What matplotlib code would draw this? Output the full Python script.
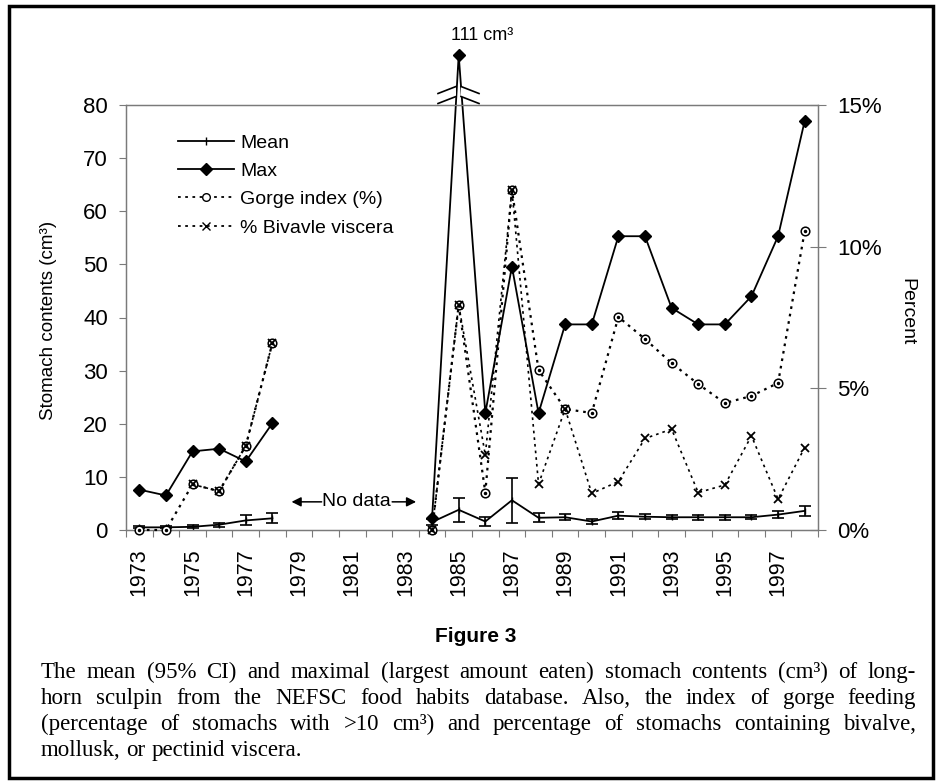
import numpy as np
import matplotlib
matplotlib.use("Agg")
import matplotlib.pyplot as plt
from matplotlib.lines import Line2D
from matplotlib.patches import Rectangle, Polygon

nan = np.nan
years = list(range(1973, 1999))
max_vals = [7.6, 6.5, 14.8, 15.3, 12.9, 20.1, nan, nan, nan, nan, nan,
            2.2, 111, 22.0, 49.6, 22.0, 38.7, 38.7, 55.3, 55.3, 41.8, 38.7, 38.7, 44.0, 55.3, 77.0]
mean_vals = [0.5, 0.5, 0.6, 1.0, 1.8, 2.2, nan, nan, nan, nan, nan,
             1.5, 3.8, 1.6, 5.6, 2.3, 2.4, 1.6, 2.7, 2.5, 2.4, 2.4, 2.4, 2.4, 2.9, 3.6]
mean_ci = [0.2, 0.2, 0.3, 0.4, 0.95, 0.95, nan, nan, nan, nan, nan,
           0.5, 2.3, 0.8, 4.2, 0.85, 0.6, 0.5, 0.7, 0.5, 0.4, 0.5, 0.5, 0.4, 0.6, 0.9]
gorge_pct = [0, 0, 1.61, 1.37, 2.97, 6.6, nan, nan, nan, nan, nan,
             0, 7.94, 1.32, 12.0, 5.65, 4.27, 4.13, 7.52, 6.74, 5.89, 5.15, 4.48, 4.73, 5.19, 10.55]
bivalve_pct = [nan, nan, 1.61, 1.37, 2.97, 6.6, nan, nan, nan, nan, nan,
               0, 7.94, 2.65, 12.0, 1.62, 4.27, 1.29, 1.71, 3.23, 3.56, 1.32, 1.59, 3.32, 1.09, 2.91]
left_ticks = [0, 10, 20, 30, 40, 50, 60, 70, 80]
right_ticks = [0, 5, 10, 15]
right_labels = ["0%", "5%", "10%", "15%"]
xlabel_years = list(range(1973, 1999, 2))

W, H = 942, 784
SANS = ["Liberation Sans", "DejaVu Sans"]
plt.rcParams["font.family"] = SANS

fig = plt.figure(figsize=(W / 100, H / 100), dpi=100)
L, R, T, B = 126, 818, 105, 530
ax = fig.add_axes([L / W, 1 - B / H, (R - L) / W, (B - T) / H])
ax2 = ax.twinx()

# broken-axis display for values above the top of the axis
BREAK_LEVEL = 89.4
max_disp = [BREAK_LEVEL if (v == v and v > 80) else v for v in max_vals]

gray = "#7a7a7a"
ax.plot(years, max_disp, color="black", lw=1.3, marker="D", ms=6.2,
        mfc="black", mec="black", clip_on=False, zorder=4)
ax.errorbar(years, mean_vals, yerr=mean_ci, color="black", lw=1.3,
            elinewidth=1.2, capsize=4.5, capthick=1.2, marker="|", ms=5,
            clip_on=False, zorder=4)

ax2.plot(years, gorge_pct, color="black", lw=1.6, ls=(0, (1.2, 2.2)),
         marker="o", ms=6.2, mfc="white", mec="black", mew=1.1, clip_on=False, zorder=3)
ax2.plot(years, gorge_pct, ls="none", marker="o", ms=1.5, color="black",
         clip_on=False, zorder=3)
ax2.plot(years, bivalve_pct, color="black", lw=1.2, ls=(0, (1.6, 2.4)),
         marker="x", ms=6.2, mew=1.3, clip_on=False, zorder=3)

ax.set_xlim(1972.5, 1998.5)
ax.set_ylim(0, 80)
ax2.set_ylim(0, 15)

# axis break marks near the 1985 peak
px_x = (R - L) / 26.0
px_y = (B - T) / 80.0
def px2data(x, y):
    return 1972.5 + (x - L) / px_x, (B - y) / px_y

for cx, sgn in [(447, 1), (470, -1)]:
    a1 = px2data(cx - 9, 95 + sgn * 3.5 - 5)
    a2 = px2data(cx + 9, 95 - sgn * 3.5 - 5)
    b1 = px2data(cx - 9, 95 + sgn * 3.5 + 5)
    b2 = px2data(cx + 9, 95 - sgn * 3.5 + 5)
    ax.add_patch(Polygon([a1, a2, b2, b1], closed=True, facecolor="white",
                         edgecolor="none", clip_on=False, zorder=6))
    for p, q in [(a1, a2), (b1, b2)]:
        ax.add_line(Line2D([p[0], q[0]], [p[1], q[1]], color="black", lw=1.2,
                           clip_on=False, zorder=7))

ax.annotate("111 cm³", xy=(1985, BREAK_LEVEL), xytext=(17, 11),
            textcoords="offset points", ha="center", va="baseline", fontsize=13,
            annotation_clip=False)

# "No data" annotation
ax.text(1981.15, 5.3, "No data", ha="center", va="center", fontsize=14)
ax.annotate("", xy=(1978.72, 5.3), xytext=(1979.85, 5.3),
            arrowprops=dict(arrowstyle="-|>", color="black", lw=1.1,
                            mutation_scale=14, shrinkA=0, shrinkB=0))
ax.annotate("", xy=(1983.4, 5.3), xytext=(1982.5, 5.3),
            arrowprops=dict(arrowstyle="-|>", color="black", lw=1.1,
                            mutation_scale=14, shrinkA=0, shrinkB=0))

# ticks
ax.set_xticks(np.arange(1972.5, 1999, 1.0))
ax.set_xticklabels([])
ax.set_xticks(xlabel_years, minor=True)
ax.set_xticklabels([str(y) for y in xlabel_years], minor=True, rotation=90,
                   fontsize=15.5)
ax.tick_params(axis="x", which="major", direction="out", length=5, color=gray, width=0.8)
ax.tick_params(axis="x", which="minor", length=0, pad=13)
ax.set_yticks(left_ticks)
ax.tick_params(axis="y", direction="out", length=5, pad=8, labelsize=16,
               color=gray, width=0.8)
ax2.set_yticks(right_ticks)
ax2.set_yticklabels(right_labels)
ax2.tick_params(axis="y", direction="inout", length=12, pad=8, labelsize=16,
                color=gray, width=0.8)
for a in (ax, ax2):
    for s in a.spines.values():
        s.set_color(gray)
        s.set_linewidth(0.9)

# legend
handles = [
    Line2D([], [], color="black", lw=1.3, marker="|", ms=6),
    Line2D([], [], color="black", lw=1.3, marker="D", ms=6),
    Line2D([], [], color="black", lw=1.3, ls=(0, (1.5, 2.5)), marker="o", ms=5.5,
           mfc="white", mec="black"),
    Line2D([], [], color="black", lw=1.3, ls=(0, (1.5, 2.5)), marker="x", ms=5.5),
]
labels = ["Mean", "Max", "Gorge index (%)", "% Bivavle viscera"]
leg = ax2.legend(handles, labels, loc="upper left",
                 bbox_to_anchor=((178 - L) / (R - L), (B - 134) / (B - T)),
                 frameon=False, fontsize=14, handlelength=2.9, handletextpad=0.3,
                 labelspacing=0.55, borderpad=0, borderaxespad=0)

# axis titles
fig.text(49 / W, 1 - 320 / H, "Stomach contents (cm³)", rotation=90,
         ha="center", va="center", fontsize=13.5)
fig.text(907 / W, 1 - 312 / H, "Percent", rotation=270,
         ha="center", va="center", fontsize=14)

# figure caption
fig.text(476 / W, 1 - 637 / H, "Figure 3", ha="center", va="center",
         fontsize=15, fontweight="bold",
         family=["Liberation Sans Narrow", "Liberation Sans", "DejaVu Sans"])

caption_lines = [
    "The mean (95% CI) and maximal (largest amount eaten) stomach contents (cm³) of long-",
    "horn sculpin from the NEFSC food habits database. Also, the index of gorge feeding",
    "(percentage of stomachs with >10 cm³) and percentage of stomachs containing bivalve,",
    "mollusk, or pectinid viscera.",
]
cap_font = dict(fontsize=16.5, family=["Liberation Serif", "DejaVu Serif"])
fig.canvas.draw()
renderer = fig.canvas.get_renderer()
x0, x1 = 41, 916
baselines = [678, 704, 730, 756]
for i, line in enumerate(caption_lines):
    words = line.split(" ")
    texts = [fig.text(0, 1 - baselines[i] / H, w, ha="left", va="baseline", **cap_font)
             for w in words]
    widths = [t.get_window_extent(renderer).width for t in texts]
    sp = fig.text(0, 0, "a a", **cap_font)
    sp2 = fig.text(0, 0, "aa", **cap_font)
    space = sp.get_window_extent(renderer).width - sp2.get_window_extent(renderer).width
    sp.remove(); sp2.remove()
    if i < len(caption_lines) - 1:
        gap = (x1 - x0 - sum(widths)) / (len(words) - 1)
        if gap < 0.4 * space:
            gap = 0.4 * space
    else:
        gap = space
    x = x0
    for t, w in zip(texts, widths):
        t.set_x(x / W)
        x += w + gap

# frame border
fig.add_artist(Rectangle((9 / W, 1 - 778 / H), (933 - 9) / W, (778 - 6) / H,
                         transform=fig.transFigure, fill=False, lw=2.5,
                         edgecolor="black"))

fig.savefig("out.png", dpi=100)
